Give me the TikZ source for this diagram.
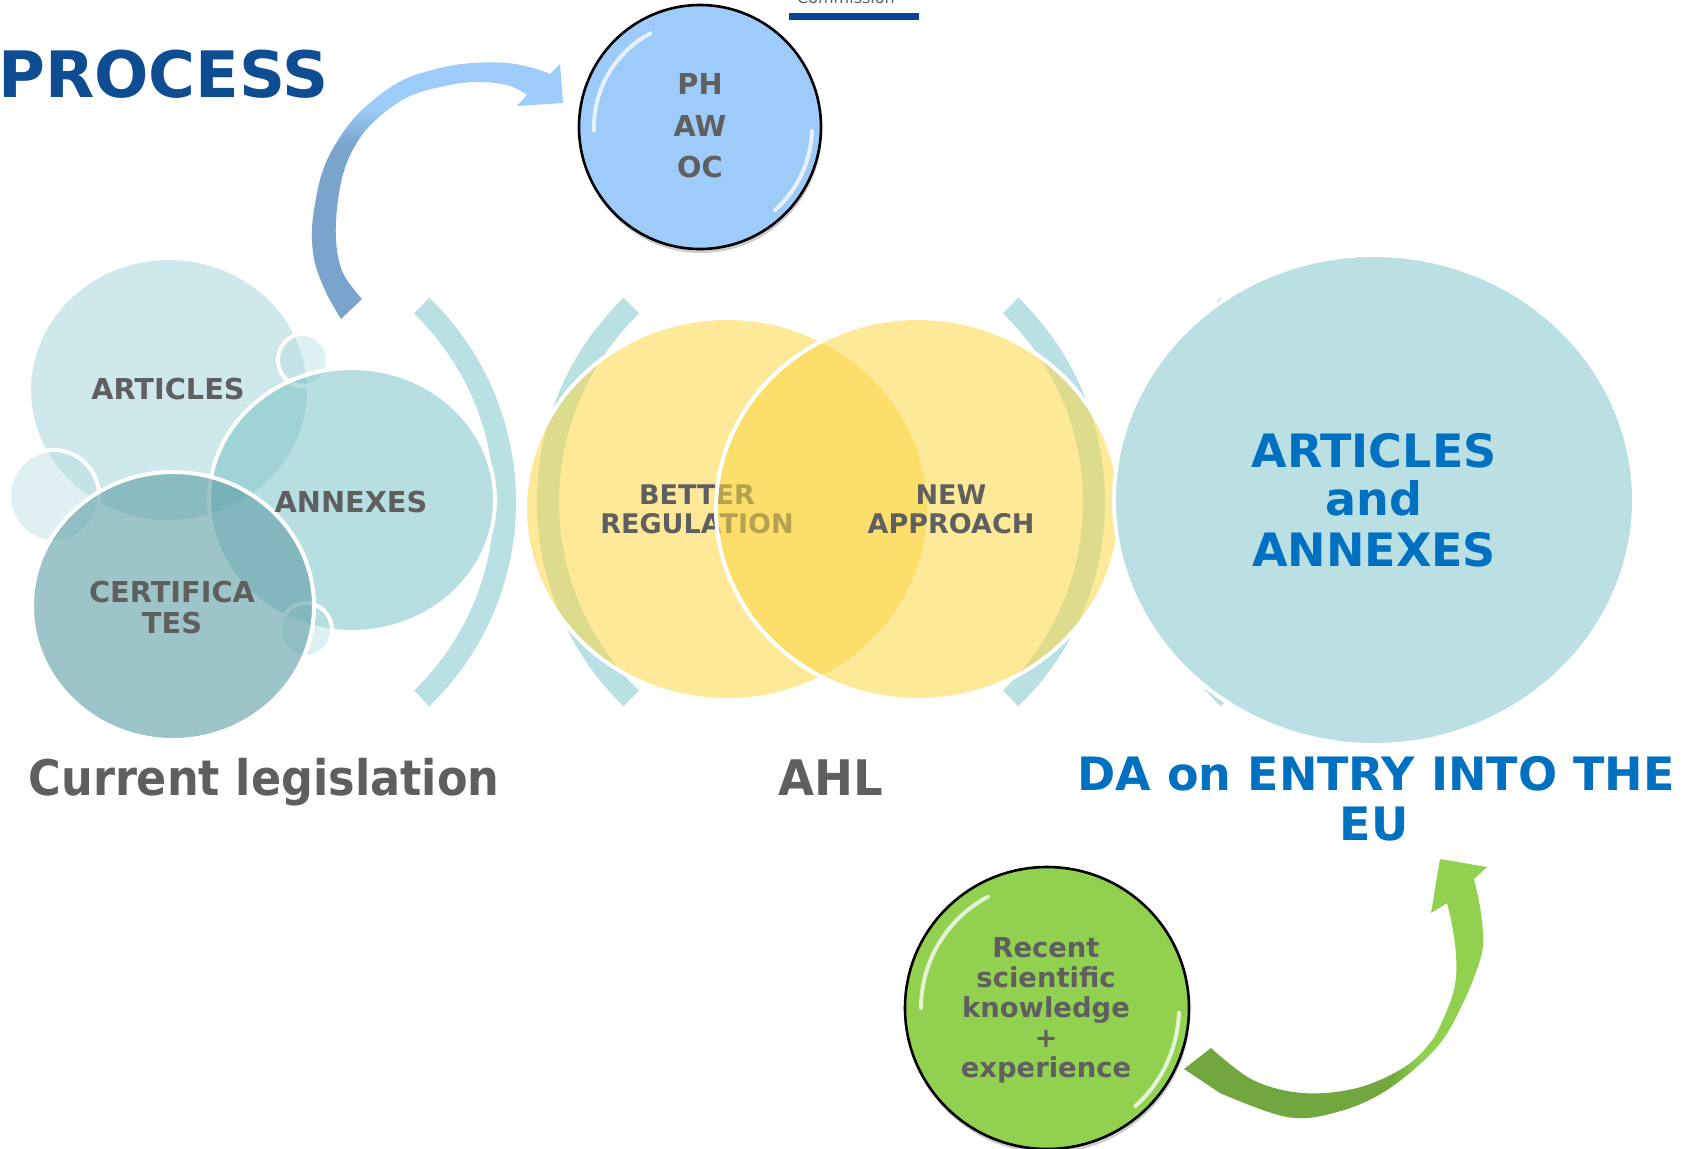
\documentclass[tikz,border=0pt]{standalone}
\usepackage{fontspec}
\setmainfont{DejaVu Sans}
\usepackage{graphicx}
\definecolor{txtgray}{HTML}{5F5F5F}
\definecolor{procblue}{HTML}{0E4D92}
\definecolor{eublue}{HTML}{0070C0}
\definecolor{barblue}{HTML}{0A4595}
\definecolor{brkc}{HTML}{B9E0E3}
\definecolor{artc}{HTML}{CFE8EC}
\definecolor{annc}{HTML}{71BFC5}
\definecolor{certc}{HTML}{5D9DA5}
\definecolor{bubc}{HTML}{B8DFE2}
\definecolor{yelc}{HTML}{FCD845}
\definecolor{bigc}{HTML}{BBE0E3}
\definecolor{phc}{HTML}{9DCBFA}
\definecolor{grc}{HTML}{92D050}
\definecolor{bDark}{HTML}{7BA4CD}
\definecolor{bLight}{HTML}{9DCBFA}
\definecolor{gDark}{HTML}{72A63E}
\definecolor{gLight}{HTML}{92D050}
\pgfdeclareverticalshading{bluesh}{100bp}{color(0bp)=(bDark); color(59bp)=(bDark); color(66bp)=(bLight); color(100bp)=(bLight)}
\pgfdeclarehorizontalshading{greensh}{100bp}{color(0bp)=(gDark); color(59bp)=(gDark); color(64bp)=(gLight); color(100bp)=(gLight)}
\begin{document}
\begin{tikzpicture}[x=0.5pt,y=-0.5pt,
 lbl/.style={font=\bfseries\fontsize{14.4}{16}\selectfont, text=txtgray, inner sep=0pt, anchor=base},
 ylbl/.style={font=\bfseries\fontsize{13.5}{15}\selectfont, text=txtgray, inner sep=0pt, anchor=base},
 glbl/.style={font=\bfseries\fontsize{13.7}{15}\selectfont, text=txtgray, inner sep=0pt, anchor=base},
 biglbl/.style={font=\bfseries\fontsize{23}{26}\selectfont, text=eublue, inner sep=0pt, anchor=base},
 captxt/.style={font=\bfseries\fontsize{24.5}{28}\selectfont, text=txtgray, inner sep=0pt, anchor=base},
 brk/.style={fill=brkc},
 wline/.style={draw=white, line width=2pt},
 hl/.style={draw=white, line width=2pt, opacity=0.75, line cap=round},
]
\useasboundingbox (0,0) rectangle (1690,1148);
\fill[white] (0,0) rectangle (1690,1148);

% brackets
\foreach \cx/\a/\b in {232/-46/46, 821/134/226, 821/-46/46, 1418/134/226}{
 \begin{scope}
 \clip (\cx,502) -- +(\a:600) -- +(\b:600) -- cycle;
 \fill[brk, even odd rule] (\cx,502) circle[radius=284] (\cx,502) circle[radius=262];
 \end{scope}
}

% left group
\fill[artc, wline] (169,390) ellipse[x radius=140, y radius=132];
\path[fill=bubc, fill opacity=0.45, wline] (303,360) ellipse[x radius=25, y radius=26];
\path[fill=bubc, fill opacity=0.45, wline] (54,496) ellipse[x radius=45, y radius=46];
\path[fill=annc, fill opacity=0.5, wline] (352,500) ellipse[x radius=143, y radius=132];
\path[fill=bubc, fill opacity=0.45, wline] (306,630) ellipse[x radius=26, y radius=27];
\path[fill=certc, fill opacity=0.6, wline] (173,606) ellipse[x radius=141, y radius=134];
\node[lbl] (articles) at (168,399) {ARTICLES};
\node[lbl] (annexes) at (351,512) {ANNEXES};
\node[lbl] (cert1) at (172,602) {CERTIFICA};
\node[lbl] (cert2) at (172,633) {TES};

% yellow venn
\path[fill=yelc, fill opacity=0.55, wline] (727,509) ellipse[x radius=202, y radius=191];
\node[ylbl] (better) at (697,504.5) {BETTER};
\node[ylbl] (regul) at (697,533) {REGULATION};
\path[fill=yelc, fill opacity=0.55, wline] (918,509) ellipse[x radius=202, y radius=191];
\node[ylbl] (new) at (951,504.5) {NEW};
\node[ylbl] (approach) at (951,533) {APPROACH};

% big circle
\path[fill=bigc, wline] (1374,500) ellipse[x radius=260, y radius=245];
\node[biglbl] (bart) at (1374,467) {ARTICLES};
\node[biglbl] (band) at (1374,515) {and};
\node[biglbl] (bann) at (1374,566) {ANNEXES};

% captions
\node[captxt] (curleg) at (264,795) {\scalebox{0.91}[1]{Current legislation}};
\node[captxt] (ahl) at (831,795) {\scalebox{0.95}[1]{AHL}};
\node[biglbl] (da1) at (1376,790) {DA on ENTRY INTO THE};
\node[biglbl] (da2) at (1374,840) {EU};

% title and logo bar
\node[font=\bfseries\fontsize{32}{36}\selectfont, text=procblue, inner sep=0pt, anchor=base west] (process) at (-2,97) {PROCESS};
\node[font=\fontsize{8}{9}\selectfont, text=txtgray, inner sep=0pt, anchor=base] (comm) at (846,3.5) {Commission};
\fill[barblue] (789,13) rectangle (919,20);

% blue curved arrow
\shade[shading=bluesh] (341,319) -- plot[smooth, tension=0.6] coordinates {(328,297) (316,267) (312,240) (314,210) (323,170) (340,137) (362,110) (399,82) (440,68) (473,63) (507,63) (533,68) (550,74)}
 -- (560,64) -- (563,103) -- (517,106)
 -- plot[smooth, tension=0.6] coordinates {(527,95) (507,85) (473,82) (440,87) (410,96) (385,112) (362,135) (346,165) (338,200) (336,240) (343,273) (362,299)} -- cycle;

% PH circle
\fill[black, opacity=0.2] (701,131) ellipse[x radius=121, y radius=122];
\path[fill=phc, draw=black, line width=1.3pt] (700,127) ellipse[x radius=121, y radius=122];
\draw[hl] plot[domain=178:242, samples=30] ({700+106*cos(\x)}, {127+106*sin(\x)});
\draw[hl] plot[domain=2:48, samples=30] ({700+112*cos(\x)}, {127+112*sin(\x)});
\node[lbl] (ph) at (700,94) {PH};
\node[lbl] (aw) at (700,136) {AW};
\node[lbl] (oc) at (700,177) {OC};

% green circle
\fill[black, opacity=0.2] (1048,1012) ellipse[x radius=142, y radius=141];
\path[fill=grc, draw=black, line width=1.3pt] (1047,1008) ellipse[x radius=142, y radius=141];
\draw[hl] plot[domain=180:242, samples=30] ({1047+126*cos(\x)}, {1008+126*sin(\x)});
\draw[hl] plot[domain=2:48, samples=30] ({1047+132*cos(\x)}, {1008+132*sin(\x)});
\node[glbl] (rec1) at (1046,957) {Recent};
\node[glbl] (rec2) at (1046,987) {scientific};
\node[glbl] (rec3) at (1046,1017) {knowledge};
\node[glbl] (rec4) at (1046,1047) {+};
\node[glbl] (rec5) at (1046,1077) {experience};

% green curved arrow
\shade[shading=greensh] (1184,1069) -- plot[smooth, tension=0.6] coordinates {(1220,1093) (1287,1117) (1337,1112) (1387,1090) (1437,1047) (1463,1003) (1480,960) (1483,937) (1480,907) (1474,879)}
 -- (1487,867) -- (1440,859) -- (1431,913)
 -- plot[smooth, tension=0.6] coordinates {(1447,903) (1452,925) (1456,955) (1455,985) (1445,1015) (1430,1043) (1403,1068) (1357,1088) (1303,1093) (1253,1080) (1211,1048)} -- cycle;
\end{tikzpicture}
\end{document}
